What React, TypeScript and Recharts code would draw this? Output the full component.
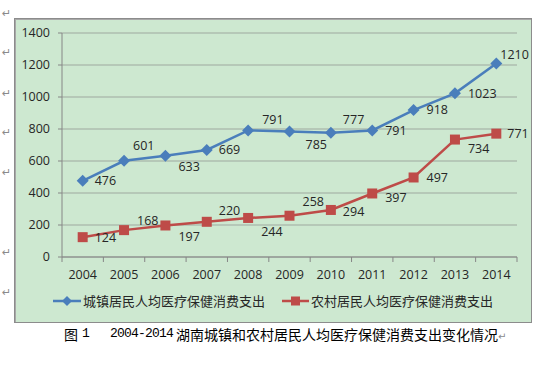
import { LineChart, Line, XAxis, YAxis, CartesianGrid, LabelList } from "recharts";

const YEARS = ["2004", "2005", "2006", "2007", "2008", "2009", "2010", "2011", "2012", "2013", "2014"];
const URBAN = [476, 601, 633, 669, 791, 785, 777, 791, 918, 1023, 1210];
const RURAL = [124, 168, 197, 220, 244, 258, 294, 397, 497, 734, 771];
const Y_TICKS = [0, 200, 400, 600, 800, 1000, 1200, 1400];

const URBAN_NAME = "城镇居民人均医疗保健消费支出";
const RURAL_NAME = "农村居民人均医疗保健消费支出";

// label offsets (dx to text start, dy to text middle) — Excel placed these by hand
const URBAN_OFF = [[12, 0], [9, -15], [13, 11], [12, 0], [14, -11], [16, 13], [12, -13], [13, 0], [13, 0], [13, 0], [4, -9]];
const RURAL_OFF = [[12, 0], [13, -9], [13, 11], [12, -11], [13, 14], [13, -14], [12, 2], [13, 4], [13, 0], [13, 9], [11, 0]];

const BLUE = "#4a7ebb";
const RED = "#be4b48";
const NUM_FONT = "Open Sans, Lato, sans-serif";

const data = YEARS.map((y, i) => ({ year: y, urban: URBAN[i], rural: RURAL[i] }));

const PLOT_LEFT = 62;
const PLOT_RIGHT = 517;
const BAND = (PLOT_RIGHT - PLOT_LEFT) / YEARS.length;

function makeLabel(off: number[][]) {
  return (props: any) => {
    const { x, y, value, index } = props;
    const [dx, dy] = off[index] || [12, 0];
    return (
      <text x={x + dx} y={y + dy} dy="0.35em" fontSize={12.5} fontFamily={NUM_FONT} fill="#262626">
        {value}
      </text>
    );
  };
}

function XTick(props: any) {
  const { x, y, payload, index } = props;
  return (
    <g>
      <line x1={x - BAND / 2} x2={x - BAND / 2} y1={y - 8} y2={y - 3} stroke="#868686" />
      {index === YEARS.length - 1 && (
        <line x1={x + BAND / 2} x2={x + BAND / 2} y1={y - 8} y2={y - 3} stroke="#868686" />
      )}
      <text x={x} y={y + 14} textAnchor="middle" fontSize={12.5} fontFamily={NUM_FONT} fill="#262626">
        {payload.value}
      </text>
    </g>
  );
}

const Diamond = (props: any) => {
  const { cx, cy } = props;
  return <path d={`M${cx},${cy - 6} L${cx + 6},${cy} L${cx},${cy + 6} L${cx - 6},${cy} Z`} fill={BLUE} />;
};

const Square = (props: any) => {
  const { cx, cy } = props;
  return <rect x={cx - 5} y={cy - 5} width={10} height={10} fill={RED} />;
};

const ARROW_YS = [14, 53, 94, 133, 173, 253, 293];

export default function App() {
  return (
    <div style={{ position: "absolute", left: 0, top: 0, width: 555, height: 365, background: "#fff", overflow: "hidden" }}>
      {ARROW_YS.map((y) => (
        <span
          key={y}
          style={{ position: "absolute", left: 2, top: y - 7, fontSize: 11, color: "#8a8a8a", fontFamily: "DejaVu Sans", lineHeight: "14px" }}
        >
          ↵
        </span>
      ))}
      <div
        style={{
          position: "absolute",
          left: 14,
          top: 18,
          width: 516,
          height: 303,
          background: "#cde8d0",
          border: "1px solid #8c8c8c",
          boxShadow: "inset 1px 1px 0 #a8a8a8",
        }}
      />
      <div style={{ position: "absolute", left: 0, top: 0 }}>
        <LineChart width={555} height={365} data={data} margin={{ top: 33, right: 38, left: 12, bottom: 78 }}>
          <CartesianGrid horizontal vertical={false} stroke="#9ea89f" strokeWidth={1} />
          <XAxis
            dataKey="year"
            stroke="#868686"
            tickLine={false}
            tick={<XTick />}
            height={30}
            interval={0}
            padding={{ left: BAND / 2, right: BAND / 2 }}
          />
          <YAxis
            domain={[0, 1400]}
            ticks={Y_TICKS}
            width={50}
            stroke="#868686"
            tickSize={4}
            tickMargin={8}
            tick={{ fontSize: 12.5, fontFamily: NUM_FONT, fill: "#262626" }}
          />
          <Line
            dataKey="urban"
            stroke={BLUE}
            strokeWidth={2.5}
            dot={<Diamond />}
            isAnimationActive={false}
          >
            <LabelList dataKey="urban" content={makeLabel(URBAN_OFF)} />
          </Line>
          <Line
            dataKey="rural"
            stroke={RED}
            strokeWidth={2.5}
            dot={<Square />}
            isAnimationActive={false}
          >
            <LabelList dataKey="rural" content={makeLabel(RURAL_OFF)} />
          </Line>
        </LineChart>
      </div>
      {/* legend */}
      <div style={{ position: "absolute", left: 53, top: 292, display: "flex", alignItems: "center", fontFamily: "Noto Sans CJK SC", fontSize: 13, color: "#262626", lineHeight: "18px" }}>
        <svg width={28} height={12} style={{ marginRight: 2 }}>
          <line x1={0} x2={28} y1={6} y2={6} stroke={BLUE} strokeWidth={2.5} />
          <path d="M14,1 L19,6 L14,11 L9,6 Z" fill={BLUE} />
        </svg>
        <span>{URBAN_NAME}</span>
      </div>
      <div style={{ position: "absolute", left: 282, top: 292, display: "flex", alignItems: "center", fontFamily: "Noto Sans CJK SC", fontSize: 13, color: "#262626", lineHeight: "18px" }}>
        <svg width={27} height={12} style={{ marginRight: 2 }}>
          <line x1={0} x2={27} y1={6} y2={6} stroke={RED} strokeWidth={2.5} />
          <rect x={9} y={1.5} width={9} height={9} fill={RED} />
        </svg>
        <span>{RURAL_NAME}</span>
      </div>
      {/* caption */}
      <div style={{ position: "absolute", left: 64, top: 324, height: 20, whiteSpace: "nowrap", color: "#000", lineHeight: "20px" }}>
        <span style={{ position: "absolute", left: 0, fontFamily: "Noto Sans CJK SC", fontSize: 14 }}>图</span>
        <span style={{ position: "absolute", left: 18, fontFamily: "Liberation Mono", fontSize: 13 }}>1</span>
        <span style={{ position: "absolute", left: 46, fontFamily: "Liberation Mono", fontSize: 13, letterSpacing: -0.8 }}>2004-2014</span>
        <span style={{ position: "absolute", left: 112, fontFamily: "Noto Sans CJK SC", fontSize: 14 }}>
          湖南城镇和农村居民人均医疗保健消费支出变化情况
          <span style={{ fontFamily: "DejaVu Sans", fontSize: 10, color: "#8a8a8a" }}>↵</span>
        </span>
      </div>
    </div>
  );
}
